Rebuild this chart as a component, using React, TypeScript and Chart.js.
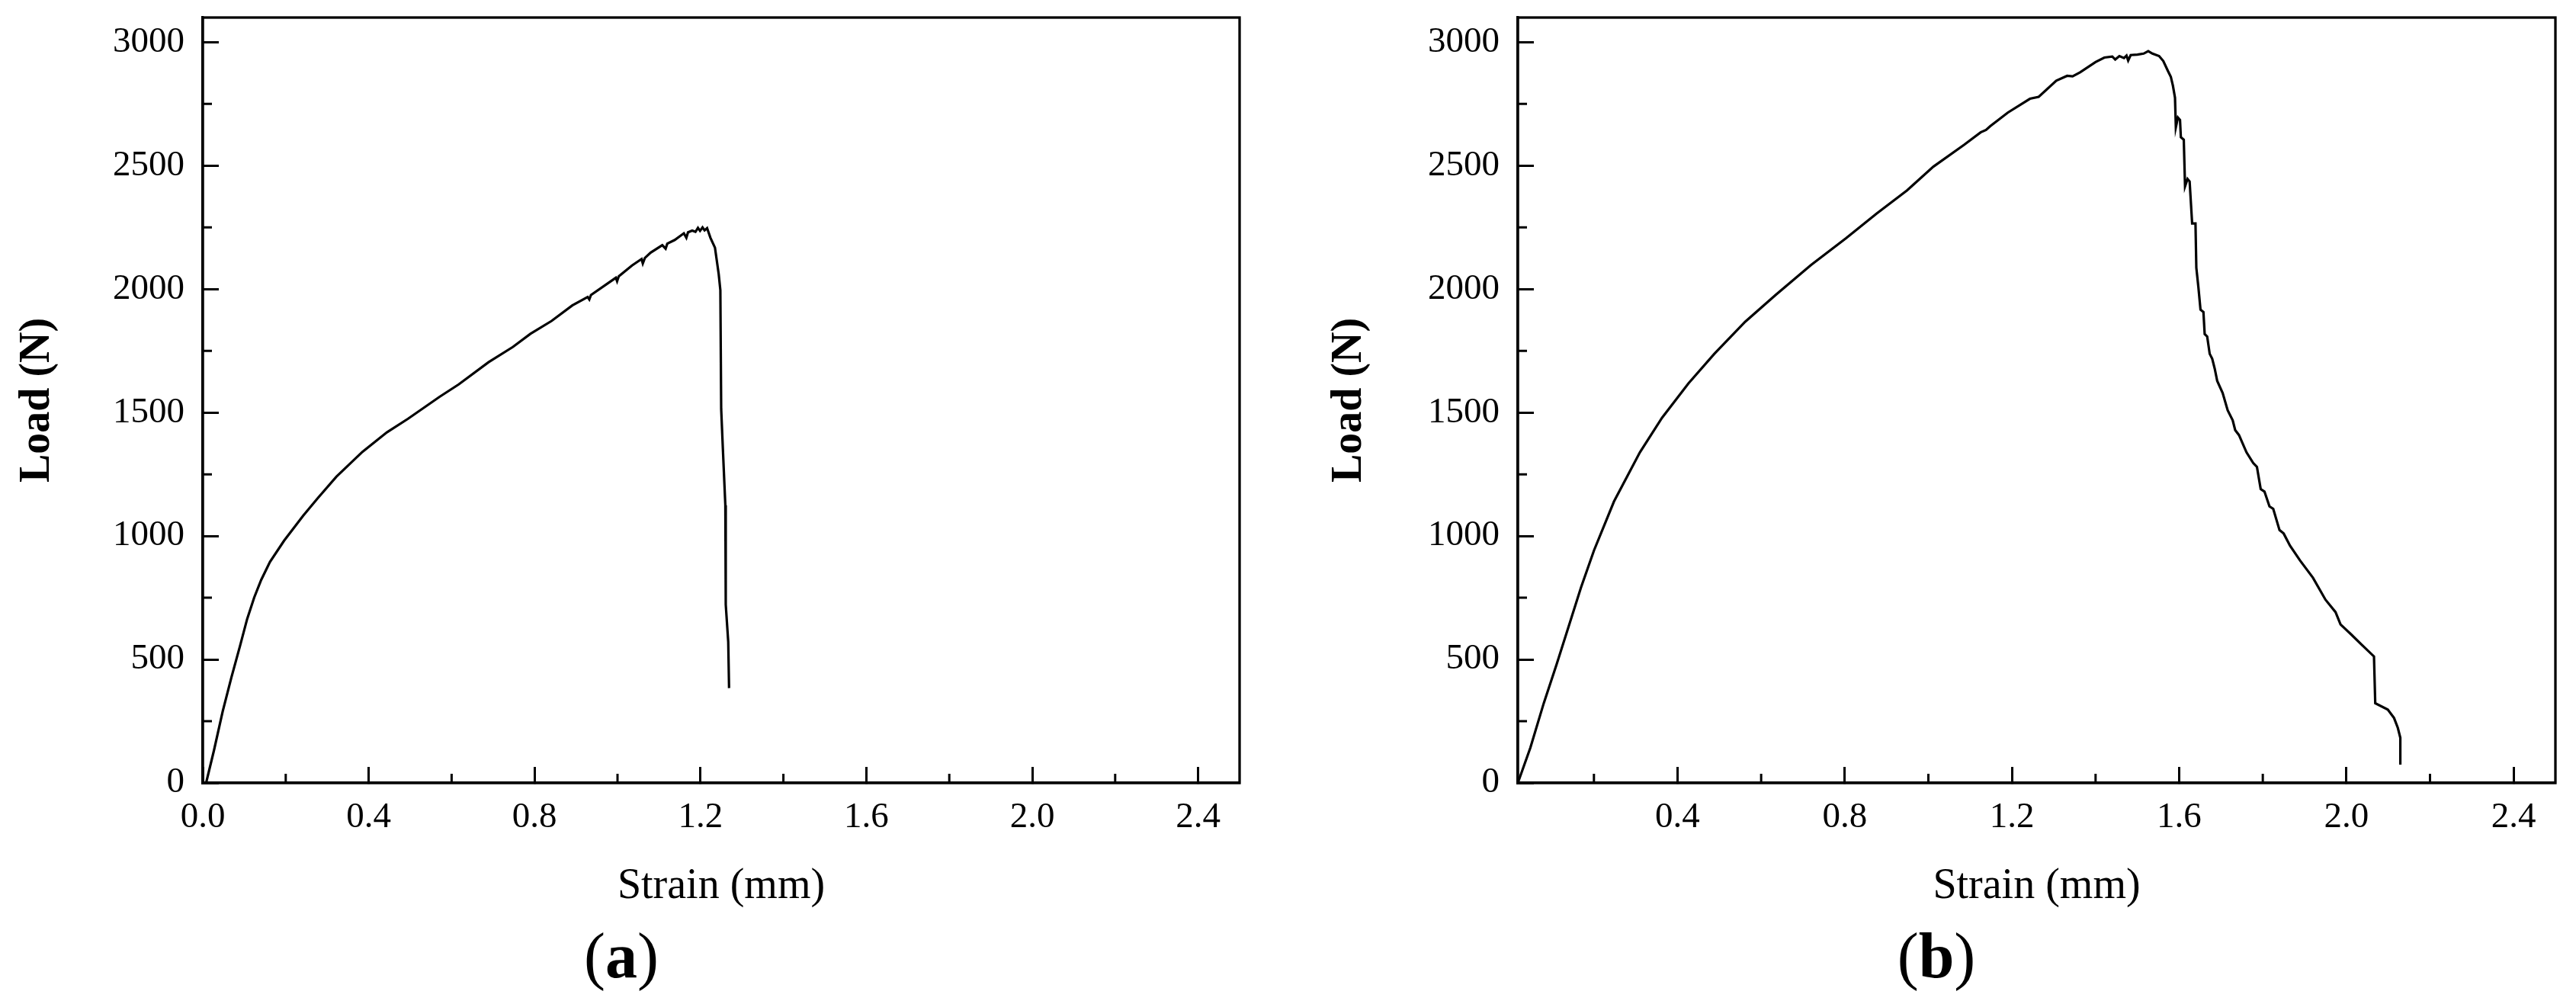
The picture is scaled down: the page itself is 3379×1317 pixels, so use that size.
import { useEffect, useRef } from "react";
import { Chart, registerables } from "chart.js";

Chart.register(...registerables);

// panel (a): strain (mm) / load (N)
const strainA = [
  0.008, 0.027, 0.048, 0.069, 0.09, 0.107, 0.124, 0.141, 0.162, 0.196, 0.242, 0.276, 0.322, 0.385,
  0.444, 0.495, 0.571, 0.617, 0.689, 0.748, 0.79, 0.841, 0.891, 0.928, 0.932, 0.936, 0.996, 0.999,
  1.003, 1.035, 1.058, 1.061, 1.066, 1.08, 1.108, 1.116, 1.12, 1.138, 1.16, 1.166, 1.17, 1.18, 1.188,
  1.194, 1.199, 1.205, 1.21, 1.216, 1.224, 1.235, 1.244, 1.248, 1.25, 1.254, 1.26, 1.261, 1.267, 1.269,
];
const loadA = [
  0, 132, 290, 427, 556, 664, 751, 823, 895, 981, 1082, 1151, 1240, 1341,
  1420, 1475, 1564, 1614, 1704, 1766, 1819, 1871, 1934, 1968, 1958, 1976, 2046, 2032,
  2052, 2096, 2122, 2104, 2126, 2148, 2178, 2164, 2184, 2199, 2226, 2208, 2230, 2237, 2232,
  2248, 2236, 2250, 2238, 2247, 2208, 2168, 2061, 1996, 1514, 1355, 1125, 722, 571, 384,
];

// panel (b)
const strainB = [
  0.018, 0.048, 0.08, 0.111, 0.143, 0.169, 0.2, 0.248, 0.31, 0.363, 0.426, 0.488, 0.562, 0.635,
  0.719, 0.803, 0.876, 0.949, 1.012, 1.086, 1.125, 1.138, 1.148, 1.19, 1.243, 1.264, 1.306, 1.332,
  1.345, 1.363, 1.4, 1.421, 1.44, 1.447, 1.457, 1.468, 1.474, 1.478, 1.484, 1.5, 1.515, 1.526, 1.536,
  1.552, 1.562, 1.573, 1.58, 1.585, 1.59, 1.592, 1.597, 1.602, 1.604, 1.611, 1.614, 1.62, 1.625,
  1.631, 1.639, 1.641, 1.646, 1.651, 1.658, 1.661, 1.667, 1.673, 1.679, 1.685, 1.691, 1.704, 1.716,
  1.728, 1.734, 1.743, 1.761, 1.777, 1.786, 1.795, 1.804, 1.816, 1.825, 1.84, 1.85, 1.865, 1.889,
  1.92, 1.95, 1.974, 1.986, 2.011, 2.035, 2.066, 2.069, 2.099, 2.114, 2.123, 2.129, 2.129,
];
const loadB = [
  0, 143, 323, 482, 652, 791, 941, 1140, 1339, 1479, 1618, 1738, 1868, 1977,
  2097, 2206, 2306, 2400, 2496, 2585, 2635, 2645, 2660, 2715, 2771, 2779, 2844, 2864,
  2862, 2878, 2920, 2938, 2942, 2930, 2944, 2936, 2946, 2926, 2948, 2950, 2954, 2964, 2954,
  2944, 2924, 2884, 2860, 2824, 2775, 2655, 2695, 2685, 2615, 2605, 2416, 2446, 2436,
  2266, 2266, 2087, 2007, 1917, 1907, 1818, 1808, 1738, 1718, 1678, 1628, 1579, 1509,
  1469, 1429, 1409, 1339, 1296, 1280, 1190, 1180, 1120, 1110, 1024, 1010, 961, 901,
  831, 742, 692, 642, 602, 562, 512, 323, 297, 263, 223, 183, 74,
];

const xTicksA = [0, 0.4, 0.8, 1.2, 1.6, 2.0, 2.4];
const xTicksB = [0.4, 0.8, 1.2, 1.6, 2.0, 2.4];
const yTicks = [0, 500, 1000, 1500, 2000, 2500, 3000];
const minorX = [0.2, 0.6, 1.0, 1.4, 1.8, 2.2];
const minorY = [250, 750, 1250, 1750, 2250, 2750];

const FONT = "'Liberation Serif', 'Times New Roman', serif";

// top/right frame + short minor ticks (Chart.js has no minor ticks)
const frameAndMinor = {
  id: "frameAndMinor",
  afterDraw(chart: any) {
    const { ctx, chartArea: a, scales } = chart;
    ctx.save();
    ctx.strokeStyle = "#000";
    ctx.lineWidth = 3.3;
    ctx.strokeRect(a.left, a.top, a.right - a.left, a.bottom - a.top);
    ctx.lineWidth = 3;
    ctx.beginPath();
    minorX.forEach((v) => {
      const px = scales.x.getPixelForValue(v);
      ctx.moveTo(px, a.bottom);
      ctx.lineTo(px, a.bottom - 12);
    });
    minorY.forEach((v) => {
      const py = scales.y.getPixelForValue(v);
      ctx.moveTo(a.left, py);
      ctx.lineTo(a.left + 12, py);
    });
    ctx.stroke();
    ctx.restore();
  },
};

type PanelProps = {
  strain: number[];
  load: number[];
  xTicks: number[];
  xMin: number;
  left: number;
  width: number;
  yWidth: number;
  padRight: number;
  yTitlePad: number;
};

function Panel({ strain, load, xTicks, xMin, left, width, yWidth, padRight, yTitlePad }: PanelProps) {
  const chartRef = useRef<HTMLCanvasElement>(null);
  const chartInstance = useRef<Chart | null>(null);

  useEffect(() => {
    if (!chartRef.current) return;
    if (chartInstance.current) chartInstance.current.destroy();

    const points = strain.map((x, i) => ({ x, y: load[i] }));

    chartInstance.current = new Chart(chartRef.current, {
      type: "line",
      data: {
        datasets: [
          {
            data: points,
            borderColor: "#000",
            borderWidth: 3.2,
            pointRadius: 0,
            tension: 0,
          },
        ],
      },
      options: {
        responsive: false,
        animation: false,
        layout: { padding: { left: 0, top: 23, right: padRight, bottom: 0 } },
        plugins: { legend: { display: false }, tooltip: { enabled: false } },
        scales: {
          x: {
            type: "linear",
            min: xMin,
            max: 2.5,
            afterBuildTicks: (s: any) => {
              s.ticks = xTicks.map((value) => ({ value }));
            },
            afterFit: (s: any) => {
              s.height = 290;
              s.paddingLeft = 0;
              s.paddingRight = 0;
            },
            ticks: {
              padding: 38,
              color: "#000",
              font: { family: FONT, size: 47 },
              callback: (v: any) => Number(v).toFixed(1),
            },
            grid: { drawOnChartArea: false, tickLength: -21, tickWidth: 3, tickColor: "#000" },
            border: { color: "#000", width: 3.3 },
            title: {
              display: true,
              text: "Strain (mm)",
              color: "#000",
              font: { family: FONT, size: 56 },
              padding: { top: 0, bottom: 120 },
            },
          },
          y: {
            min: 0,
            max: 3100,
            afterBuildTicks: (s: any) => {
              s.ticks = yTicks.map((value) => ({ value }));
            },
            afterFit: (s: any) => {
              s.width = yWidth;
              s.paddingTop = 0;
              s.paddingBottom = 0;
            },
            ticks: {
              padding: 45,
              color: "#000",
              font: { family: FONT, size: 47 },
              callback: (v: any) => String(v),
            },
            grid: { drawOnChartArea: false, tickLength: -21, tickWidth: 3, tickColor: "#000" },
            border: { color: "#000", width: 3.3 },
            title: {
              display: true,
              text: "Load (N)",
              color: "#000",
              font: { family: FONT, size: 56, weight: "bold" },
              padding: { top: yTitlePad, bottom: 0 },
            },
          },
        },
      },
      plugins: [frameAndMinor],
    });

    return () => {
      if (chartInstance.current) {
        chartInstance.current.destroy();
        chartInstance.current = null;
      }
    };
  }, []);

  return (
    <canvas
      ref={chartRef}
      width={width}
      height={1317}
      style={{ position: "absolute", left, top: 0 }}
    />
  );
}

function PanelLabel({ x, letter }: { x: number; letter: string }) {
  return (
    <div
      style={{
        position: "absolute",
        left: x - 200,
        top: 1212,
        width: 400,
        textAlign: "center",
        fontFamily: FONT,
        fontSize: 84,
        lineHeight: 1,
        color: "#000",
      }}
    >
      (<b>{letter}</b>)
    </div>
  );
}

export default function App() {
  return (
    <div
      style={{
        position: "absolute",
        left: 0,
        top: 0,
        width: 3379,
        height: 1317,
        background: "#fff",
        overflow: "hidden",
      }}
    >
      <Panel strain={strainA} load={loadA} xTicks={xTicksA} xMin={0} left={0} width={1689} yWidth={266} padRight={63} yTitlePad={16} />
      <Panel strain={strainB} load={loadB} xTicks={xTicksB} xMin={0.018} left={1689} width={1690} yWidth={302} padRight={27} yTitlePad={48} />
      <PanelLabel x={815} letter="a" />
      <PanelLabel x={2540} letter="b" />
    </div>
  );
}
